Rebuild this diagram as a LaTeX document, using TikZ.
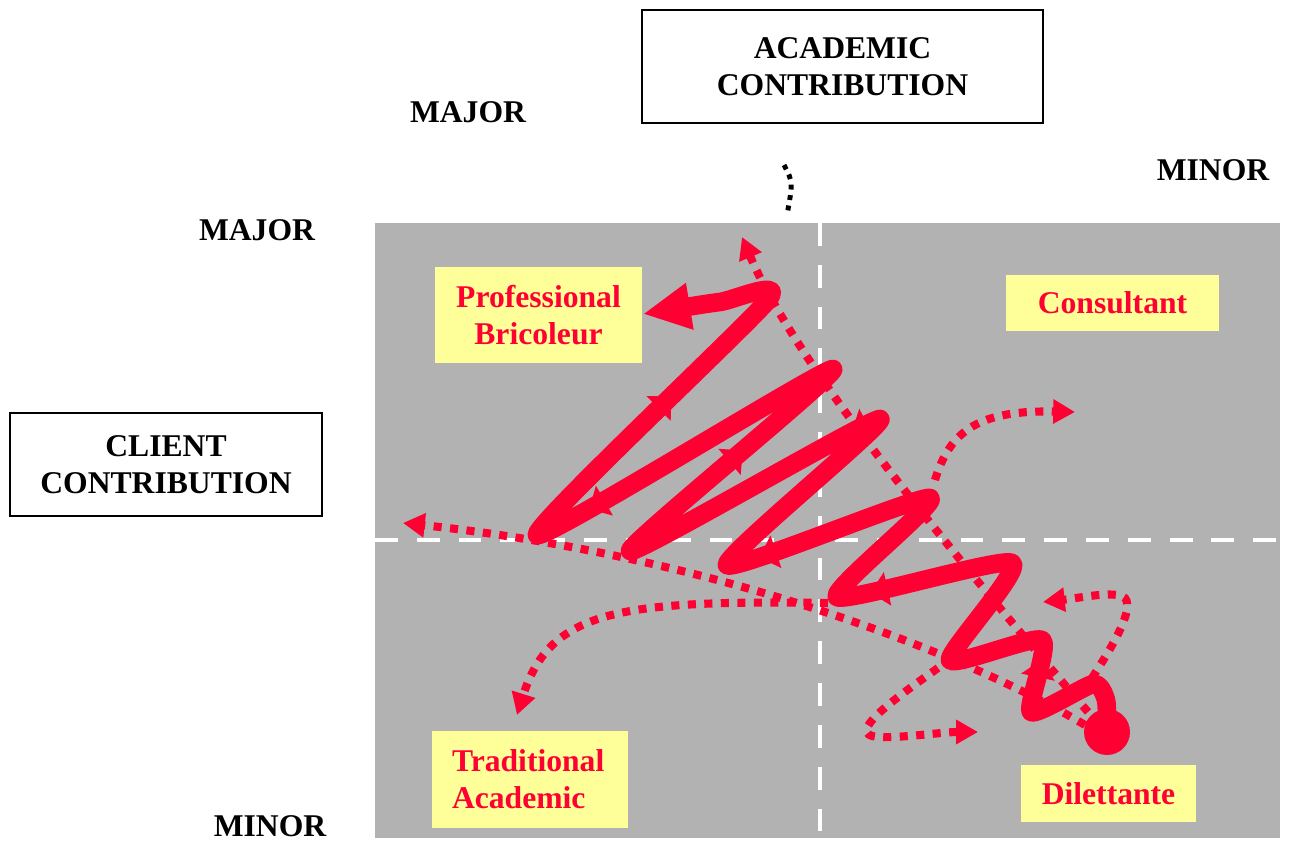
\documentclass[tikz,border=0pt]{standalone}
\usepackage{fontspec}
\setmainfont{Liberation Serif}
\usetikzlibrary{arrows.meta, decorations.markings}

\definecolor{fieldgray}{RGB}{178,178,178}
\definecolor{labelyellow}{RGB}{255,255,153}
\definecolor{trackred}{RGB}{255,0,51}

\tikzset{
    axisbox/.style={draw, line width=0.6pt, align=center, inner sep=0pt,
        font=\fontsize{9}{10.5}\selectfont\bfseries},
    axislabel/.style={font=\fontsize{9}{10.5}\selectfont\bfseries},
    rolebox/.style={fill=labelyellow, text=trackred, align=center, inner sep=0pt,
        font=\fontsize{9}{10.5}\selectfont\bfseries},
    divider/.style={white, line width=1.4pt, dash pattern=on 6.5pt off 5.4pt},
    drift/.style={trackred, line width=2.3pt, dash pattern=on 2.3pt off 2.4pt,
        -{Triangle[length=6.2pt,width=6.6pt]}},
    trail/.style={trackred, line width=5.3pt, line join=round, line cap=round,
        -{Triangle[length=13.5pt,width=12.5pt]}},
    trailmarks/.style={postaction={decorate}, decoration={markings,
        mark=at position 0.07 with {\arrow{Triangle[length=5pt,width=9.5pt]}},
        mark=at position 0.22 with {\arrow{Triangle[length=5pt,width=9.5pt]}},
        mark=at position 0.36 with {\arrow{Triangle[length=5pt,width=9.5pt]}},
        mark=at position 0.47 with {\arrow{Triangle[length=5pt,width=9.5pt]}},
        mark=at position 0.63 with {\arrow{Triangle[length=5pt,width=9.5pt]}},
        mark=at position 0.79 with {\arrow{Triangle[length=5pt,width=9.5pt]}},
        mark=at position 0.89 with {\arrow{Triangle[length=5pt,width=9.5pt]}}}}
}

\begin{document}
\begin{tikzpicture}[x=1cm, y=-1cm]
    \useasboundingbox (0,0) rectangle (12.9,8.41);

    % Grid field and its quadrant dividers
    \fill[fieldgray] (3.75,2.23) rectangle (12.8,8.38);
    \draw[divider] (8.2,2.23) -- (8.2,8.36);
    \draw[divider] (3.75,5.4) -- (12.8,5.4);

    % Axis titles and ends
    \node[axisbox, minimum width=4.01cm, minimum height=1.13cm] (academic) at (8.425,0.665) {ACADEMIC\\CONTRIBUTION};
    \node[axisbox, minimum width=3.12cm, minimum height=1.03cm] (client) at (1.66,4.645) {CLIENT\\CONTRIBUTION};
    \node[axislabel] (majortop) at (4.68,1.12) {MAJOR};
    \node[axislabel] (minortop) at (12.13,1.70) {MINOR};
    \node[axislabel] (majorleft) at (2.57,2.30) {MAJOR};
    \node[axislabel] (minorleft) at (2.70,8.26) {MINOR};

    % Black dotted tick under the academic axis
    \draw[line width=1.4pt, dash pattern=on 1.4pt off 1.6pt] (7.84,1.65) .. controls (7.93,1.82) .. (7.87,2.15);

    % Role boxes in the four quadrants
    \node[rolebox, minimum width=2.07cm, minimum height=0.96cm] (bricoleur) at (5.385,3.15) {Professional\\Bricoleur};
    \node[rolebox, minimum width=2.13cm, minimum height=0.56cm] (consultant) at (11.125,3.03) {Consultant};
    \node[rolebox, minimum width=1.96cm, minimum height=0.97cm, align=left, text width=1.56cm] (traditional) at (5.30,7.795) {Traditional\\Academic};
    \node[rolebox, minimum width=1.75cm, minimum height=0.57cm] (dilettante) at (11.085,7.935) {Dilettante};

    % Starting point of the trajectory
    \coordinate (start) at (11.07,7.32);

    % Dotted side paths
    \draw[drift] (10.88,7.12) .. controls (9.1,5.05) and (7.9,3.5) .. (7.42,2.37);
    \draw[drift] (10.85,7.25) .. controls (9.5,6.45) and (7.0,5.55) .. (4.03,5.23);
    \draw[drift] (8.28,6.03) .. controls (6.2,6.0) and (5.5,6.1) .. (5.17,7.15);
    \draw[drift] (9.35,4.8) .. controls (9.5,4.3) and (9.8,4.1) .. (10.75,4.12);
    \draw[drift] (10.92,6.78) .. controls (11.1,6.5) and (11.35,6.1) .. (11.25,5.98)
        .. controls (11.15,5.9) and (10.8,5.98) .. (10.43,6.02);
    \draw[drift] (9.38,6.68) .. controls (9.0,6.95) and (8.5,7.3) .. (8.72,7.36)
        .. controls (8.9,7.4) and (9.4,7.32) .. (9.78,7.32);

    % Zigzag trajectory towards the bricoleur
    \draw[trail, trailmarks] plot[smooth, tension=0.36] coordinates {(start) (11.06,7.0) (10.93,6.84)
        (10.31,7.12) (10.42,6.4) (9.5,6.6) (10.12,5.63) (8.37,5.97) (9.3,4.98)
        (7.27,5.65) (8.8,4.19) (6.3,5.51) (8.33,3.69) (5.37,5.35)
        (7.68,3.0) (7.2,3.02) (6.43,3.14)};
    \fill[trackred] (start) circle (0.23);
\end{tikzpicture}
\end{document}
